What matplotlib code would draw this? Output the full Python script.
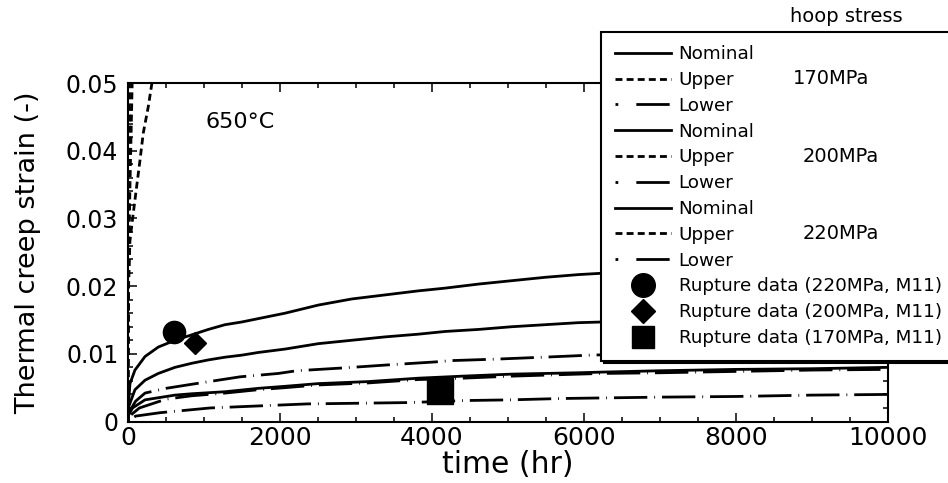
import matplotlib
matplotlib.use("Agg")
import matplotlib.pyplot as plt
from matplotlib.lines import Line2D
from matplotlib.ticker import MultipleLocator

plt.rcParams["font.family"] = ["DejaVu Sans"]
plt.rcParams["lines.scale_dashes"] = False

# creep strain curves (time in hr, strain in -)
t_220_nom = [0, 10, 26, 92, 224, 399, 618, 838, 1057, 1276, 1496, 1715, 2066, 2504, 2943,
             3382, 3820, 4171, 4610, 5048, 5487, 5925, 6233, 7000, 8000, 9000, 10000]
s_220_nom = [0, 0.0030, 0.0056, 0.0076, 0.0096, 0.0110, 0.0120, 0.0128, 0.0136, 0.0143,
             0.0147, 0.0152, 0.0160, 0.0172, 0.0181, 0.0187, 0.0193, 0.0197, 0.0203, 0.0208,
             0.0213, 0.0217, 0.0219, 0.0227, 0.0236, 0.0245, 0.0253]

t_200_nom = [0, 10, 92, 224, 399, 618, 838, 1057, 1276, 1496, 1715, 2066, 2504, 2943, 3382,
             3820, 4171, 4610, 5048, 5487, 5925, 6233, 7000, 8000, 9000, 10000]
s_200_nom = [0, 0.0022, 0.0047, 0.0061, 0.0071, 0.0080, 0.0086, 0.0091, 0.0095, 0.0098,
             0.0102, 0.0107, 0.0115, 0.0120, 0.0125, 0.0129, 0.0133, 0.0136, 0.0140, 0.0143,
             0.0146, 0.0147, 0.0152, 0.0158, 0.0163, 0.0168]

t_170_nom = [0, 10, 60, 224, 618, 838, 1276, 1715, 2066, 2504, 3162, 3820, 4400, 5048, 5925,
             6233, 7000, 8000, 9000, 10000]
s_170_nom = [0, 0.0010, 0.0020, 0.0032, 0.0039, 0.0041, 0.0044, 0.0049, 0.0052, 0.0056,
             0.0059, 0.0064, 0.0067, 0.0070, 0.0072, 0.0073, 0.0075, 0.0077, 0.0078, 0.0080]

t_220_low = [0, 20, 100, 224, 500, 838, 1474, 1978, 2219, 2812, 3469, 4039, 4259, 4807, 5465,
             6079, 7000, 8000, 9000, 10000]
s_220_low = [0, 0.0015, 0.0030, 0.0042, 0.0049, 0.0055, 0.0066, 0.0071, 0.0075, 0.0079,
             0.0084, 0.0088, 0.0090, 0.0092, 0.0095, 0.0098, 0.0101, 0.0105, 0.0108, 0.0111]

t_200_low = [0, 20, 150, 500, 838, 1276, 1715, 2066, 2504, 3162, 3820, 4400, 5048, 5925,
             6233, 7000, 8000, 9000, 10000]
s_200_low = [0, 0.0008, 0.0020, 0.0033, 0.0038, 0.0042, 0.0047, 0.0050, 0.0054, 0.0057,
             0.0062, 0.0064, 0.0067, 0.0070, 0.0071, 0.0072, 0.0074, 0.0076, 0.0077]

t_170_low = [0, 100, 421, 1079, 1715, 2360, 3031, 3697, 4443, 5035, 5706, 7000, 8000, 9000, 10000]
s_170_low = [0, 0.0008, 0.0013, 0.0020, 0.0023, 0.0026, 0.0027, 0.0028, 0.0031, 0.0032,
             0.0034, 0.0036, 0.0037, 0.0039, 0.0040]

t_170_up = [0, 2, 8, 26, 70, 114, 158, 201, 267, 311, 340]
s_170_up = [0, 0.012, 0.020, 0.0267, 0.0308, 0.0347, 0.0386, 0.0426, 0.0465, 0.0497, 0.052]

t_200_up = [0, 2, 6, 12, 20, 30, 42, 55]
s_200_up = [0, 0.010, 0.018, 0.025, 0.031, 0.037, 0.043, 0.050]

t_220_up = [0, 1, 3, 6, 10, 15, 22]
s_220_up = [0, 0.010, 0.018, 0.026, 0.034, 0.042, 0.051]

# rupture data points
rup_220 = (603, 0.01315)
rup_200 = (884, 0.01155)
rup_170 = (4112, 0.00458)

stress_labels = ["170MPa", "200MPa", "220MPa"]

solid = "-"
upper_ls = (0, (5, 3))
lower_ls = (0, (0.6, 5, 24, 5))
lw = 2

fig = plt.figure(figsize=(9.48, 4.83), dpi=100)
ax = fig.add_axes([0.135, 0.1273, 0.8017, 0.7008])

ax.plot(t_220_nom, s_220_nom, color="k", lw=lw, ls=solid)
ax.plot(t_200_nom, s_200_nom, color="k", lw=lw, ls=solid)
ax.plot(t_170_nom, s_170_nom, color="k", lw=lw, ls=solid)
ax.plot(t_220_low, s_220_low, color="k", lw=lw, ls=lower_ls)
ax.plot(t_200_low, s_200_low, color="k", lw=lw, ls=lower_ls)
ax.plot(t_170_low, s_170_low, color="k", lw=lw, ls=lower_ls)
ax.plot(t_170_up, s_170_up, color="k", lw=lw, ls=upper_ls)
ax.plot(t_200_up, s_200_up, color="k", lw=lw, ls=upper_ls)
ax.plot(t_220_up, s_220_up, color="k", lw=lw, ls=upper_ls)

ax.plot(*rup_220, marker="o", ms=16, color="k", ls="none")
ax.plot(*rup_200, marker="D", ms=11.3, color="k", ls="none")
ax.plot(*rup_170, marker="s", ms=18.5, color="k", ls="none")

ax.set_xlim(0, 10000)
ax.set_ylim(0, 0.05)
ax.xaxis.set_major_locator(MultipleLocator(2000))
ax.xaxis.set_minor_locator(MultipleLocator(500))
ax.yaxis.set_minor_locator(MultipleLocator(0.002))
ax.set_yticks([0, 0.01, 0.02, 0.03, 0.04, 0.05])
ax.set_yticklabels(["0", "0.01", "0.02", "0.03", "0.04", "0.05"])
ax.tick_params(which="both", direction="in", top=True, right=True, width=1.1)
ax.tick_params(which="major", length=6.5)
ax.tick_params(which="minor", length=3.5)
ax.tick_params(axis="x", labelsize=18, pad=3)
ax.tick_params(axis="y", labelsize=17, pad=7)
for sp in ax.spines.values():
    sp.set_linewidth(1.5)

ax.set_xlabel("time (hr)", fontsize=21.5, labelpad=0)
ax.set_ylabel("Thermal creep strain (-)", fontsize=19.5, labelpad=18)
ax.text(0.147, 0.885, "650°C", transform=ax.transAxes, fontsize=16,
        ha="center", va="center")

# legend
handles = []
labels = []
for _ in stress_labels:
    handles += [Line2D([], [], color="k", lw=lw, ls=solid),
                Line2D([], [], color="k", lw=lw, ls=upper_ls),
                Line2D([], [], color="k", lw=lw, ls=(0, (2, 13, 24, 6)))]
    labels += ["Nominal", "Upper", "Lower"]
handles += [Line2D([], [], color="k", marker="o", ms=17, ls="none"),
            Line2D([], [], color="k", marker="D", ms=12.5, ls="none"),
            Line2D([], [], color="k", marker="s", ms=16, ls="none")]
labels += ["Rupture data (220MPa, M11)", "Rupture data (200MPa, M11)",
           "Rupture data (170MPa, M11)"]

leg = ax.legend(handles, labels, loc="upper left", bbox_to_anchor=(601 / 948, 1 - 31.7 / 483),
                bbox_transform=fig.transFigure, fontsize=13.2, handlelength=3.1,
                handletextpad=0.4, labelspacing=0.425, borderpad=0.74, borderaxespad=0,
                fancybox=False, framealpha=1, edgecolor="k",
                shadow={"color": "k", "alpha": 1})
leg.get_frame().set_linewidth(1.5)
leg.set_zorder(10)

row_y = [79.0, 156.1, 233.2]
row_x = [793, 803, 803]
for lab, y, x in zip(stress_labels, row_y, row_x):
    fig.text(x / 948, 1 - y / 483, lab, fontsize=14, ha="left", va="center")
fig.text(846 / 948, 1 - 16 / 483, "hoop stress", fontsize=14, ha="center", va="center")

fig.savefig("out.png", dpi=100)
